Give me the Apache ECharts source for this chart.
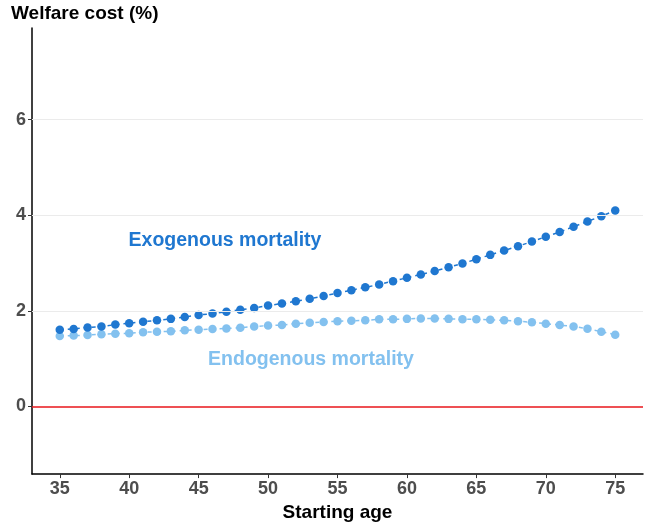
<!DOCTYPE html>
<html><head><meta charset="utf-8">
<script src="https://cdn.jsdelivr.net/npm/echarts@6/dist/echarts.min.js"></script>
<style>html,body{margin:0;padding:0;background:#fff}#c{width:645px;height:527px}</style>
</head><body><div id="c"></div>
<script>
const ages = [35,36,37,38,39,40,41,42,43,44,45,46,47,48,49,50,51,52,53,54,55,56,57,58,59,60,61,62,63,64,65,66,67,68,69,70,71,72,73,74,75];
const exogenous = [1.60,1.62,1.65,1.67,1.71,1.74,1.77,1.80,1.83,1.87,1.91,1.94,1.98,2.02,2.06,2.11,2.15,2.20,2.25,2.31,2.37,2.43,2.49,2.55,2.62,2.69,2.76,2.83,2.91,2.99,3.08,3.17,3.26,3.35,3.45,3.55,3.65,3.76,3.87,3.98,4.10];
const endogenous = [1.47,1.48,1.49,1.51,1.52,1.53,1.55,1.56,1.57,1.59,1.60,1.62,1.63,1.645,1.67,1.69,1.70,1.73,1.75,1.765,1.78,1.79,1.80,1.82,1.82,1.83,1.84,1.84,1.83,1.82,1.82,1.81,1.80,1.78,1.76,1.73,1.70,1.67,1.625,1.56,1.50];
const xTicks = [35,40,45,50,55,60,65,70,75];
const yTicks = [0,2,4,6];
const gridVals = [2,4,6];

const DARK = '#1F77D0', LIGHT = '#83C1EF';
const FONT = 'Liberation Sans';
const chart = echarts.init(document.getElementById('c'));
chart.setOption({
  animation: false,
  textStyle: {fontFamily: FONT},
  grid: {left: 32, right: 2, top: 28, bottom: 51},
  xAxis: {
    type: 'value', min: 33, max: 77,
    name: 'Starting age', nameLocation: 'middle', nameGap: 27,
    nameTextStyle: {fontFamily: FONT, fontWeight: 'bold', fontSize: 19, color: '#000'},
    axisLine: {onZero: false, lineStyle: {color: '#000', width: 1.5}},
    axisTick: {show: true, length: 4, customValues: xTicks, lineStyle: {color: '#333'}},
    axisLabel: {customValues: xTicks, fontFamily: FONT, fontWeight: 'bold', fontSize: 18, color: '#4d4d4d', margin: 6},
    splitLine: {show: false}
  },
  yAxis: {
    type: 'value', min: -1.42, max: 7.92,
    axisLine: {show: true, onZero: false, lineStyle: {color: '#000', width: 1.5}},
    axisTick: {show: true, length: 4, customValues: yTicks, lineStyle: {color: '#333'}},
    axisLabel: {customValues: yTicks, fontFamily: FONT, fontWeight: 'bold', fontSize: 18, color: '#4d4d4d', margin: 6},
    splitLine: {show: false}
  },
  graphic: [
    {type: 'text', left: 11, top: 4, style: {text: 'Welfare cost (%)', fontFamily: FONT, fontWeight: 'bold', fontSize: 19, fill: '#000'}},
    {type: 'text', x: 225, y: 241, style: {text: 'Exogenous mortality', fontFamily: FONT, fontWeight: 'bold', fontSize: 19.5, fill: DARK, align: 'center', verticalAlign: 'middle'}},
    {type: 'text', x: 311, y: 360, style: {text: 'Endogenous mortality', fontFamily: FONT, fontWeight: 'bold', fontSize: 19.5, fill: LIGHT, align: 'center', verticalAlign: 'middle'}}
  ],
  series: [
    {
      type: 'line', data: [], z: 1, silent: true,
      markLine: {silent: true, symbol: 'none', label: {show: false},
        lineStyle: {color: '#ebebeb', width: 1.2, type: 'solid'},
        data: gridVals.map(v => ({yAxis: v}))}
    },
    {
      type: 'line', data: [], z: 2, silent: true,
      markLine: {silent: true, symbol: 'none', label: {show: false},
        lineStyle: {color: '#E8161B', width: 1.6, type: 'solid'},
        data: [{yAxis: 0}]}
    },
    {
      name: 'Endogenous', type: 'line', z: 3,
      data: ages.map((a, i) => [a, endogenous[i]]),
      symbol: 'circle', symbolSize: 8.5,
      itemStyle: {color: LIGHT},
      lineStyle: {color: LIGHT, width: 1.5, type: [4, 4]}
    },
    {
      name: 'Exogenous', type: 'line', z: 4,
      data: ages.map((a, i) => [a, exogenous[i]]),
      symbol: 'circle', symbolSize: 8.5,
      itemStyle: {color: DARK},
      lineStyle: {color: DARK, width: 1.5, type: [4, 4]}
    }
  ]
});
</script></body></html>
